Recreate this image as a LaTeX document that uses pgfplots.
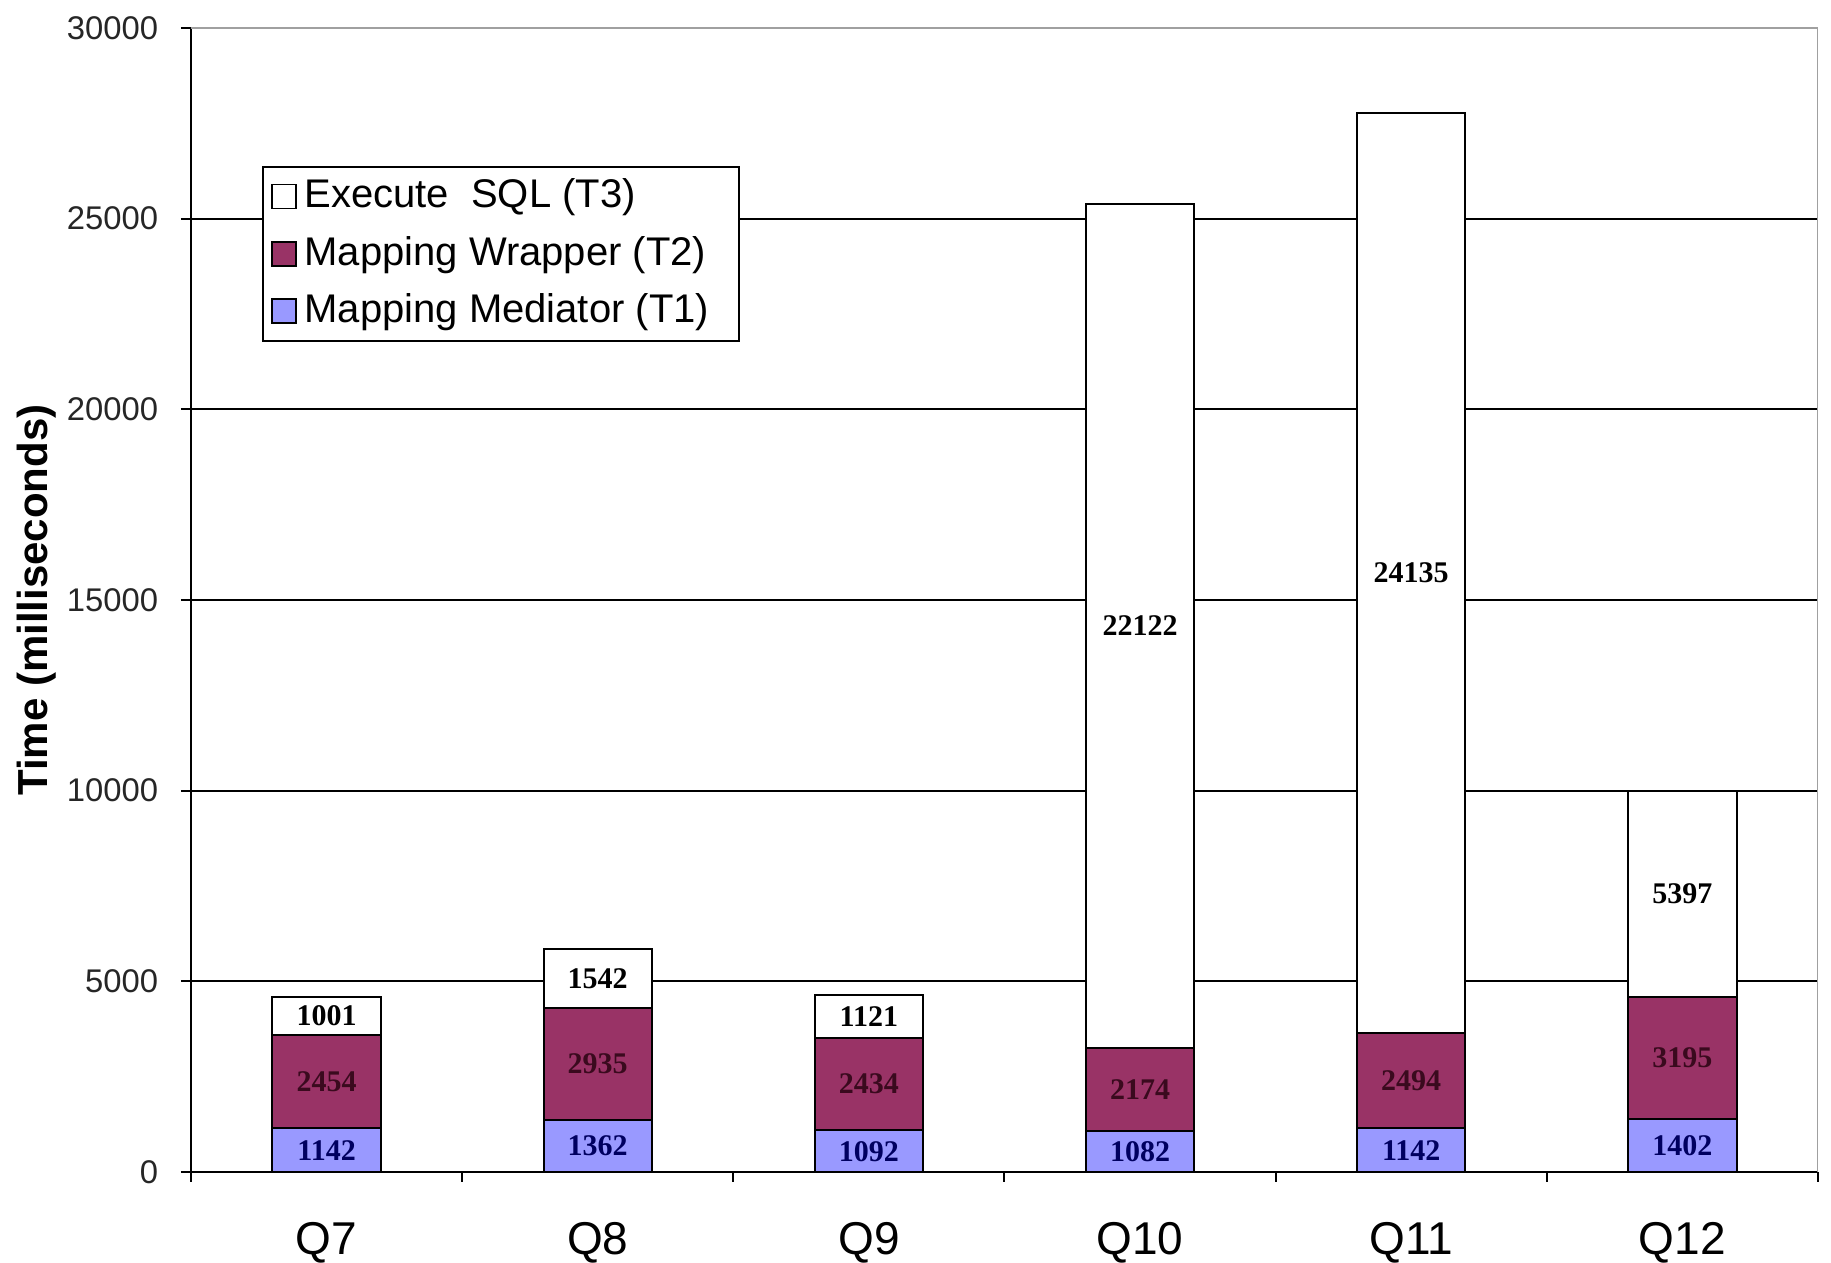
\documentclass[border=0pt]{standalone}
\usepackage{fontspec}
\setmainfont{Liberation Sans}
\newfontfamily\tnr{Liberation Serif}
\usepackage{pgfplots}
\usepackage{pgfplotstable}
\pgfplotsset{compat=1.18}
\definecolor{tone}{HTML}{9999FF}
\definecolor{ttwo}{HTML}{993366}
\definecolor{lblone}{HTML}{000060}
\definecolor{lbltwo}{HTML}{3A0A1E}
\definecolor{framegray}{HTML}{A0A0A0}

\pgfplotstableread{
x t1 t2 t3
0 1142 2454 1001
1 1362 2935 1542
2 1092 2434 1121
3 1082 2174 22122
4 1142 2494 24135
5 1402 3195 5397
}\datatable

\tikzset{
  segnode/.style={anchor=center, inner sep=0pt,
      font=\tnr\bfseries\fontsize{7.5}{8}\selectfont},
}
\pgfplotsset{
  seglabel/.style={
    nodes near coords={\pgfplotspointmeta},
    point meta=explicit symbolic,
    every node near coord/.style={segnode, text=#1},
  },
}

\begin{document}
\begin{tikzpicture}
\useasboundingbox (-47.75pt,-22.75pt) rectangle (410pt,293pt);
\begin{axis}[
  at={(0,0)}, anchor=south west,
  scale only axis, width=406.75pt, height=286pt,
  ybar stacked, bar width=0.4,
  xmin=-0.5, xmax=5.5, ymin=0, ymax=30000,
  xtick={0,...,5}, xticklabels={Q7,Q8,Q9,Q10,Q11,Q12},
  minor xtick={-0.5,0.5,...,5.5},
  ytick={0,5000,...,30000},
  scaled y ticks=false,
  /pgf/number format/1000 sep={},
  /pgf/number format/assume math mode=true,
  ymajorgrids, grid style={black, line width=0.45pt},
  axis x line*=bottom, axis y line*=left,
  axis line style={black, line width=0.5pt, -},
  tick align=outside,
  major tick length=2.5pt, minor tick length=2.5pt,
  major x tick style={draw=none},
  minor x tick style={black, line width=0.5pt},
  major y tick style={black, line width=0.5pt},
  yticklabel style={anchor=east, inner sep=0pt, xshift=-5.5pt, font=\fontsize{8.2}{10}\selectfont, text=black!85},
  xticklabel style={anchor=north, inner sep=0pt, yshift=-10pt, font=\fontsize{11.5}{13}\selectfont},
  every axis y label/.style={at={(axis description cs:-0.095,0.5)}, rotate=90, anchor=center},
  ylabel={\bfseries\fontsize{10.5}{12}\selectfont Time (milliseconds)},
  legend image code/.code={\draw[#1, line width=0.4pt] (0pt,-3pt) rectangle (6pt,3pt);},
  reverse legend,
  legend cell align=left,
  legend style={at={(axis description cs:0.0436,0.8794)}, anchor=north west,
    draw=black, line width=0.5pt, fill=white,
    font=\fontsize{10}{11}\selectfont,
    row sep=1.6pt, inner xsep=2pt, inner ysep=1pt},
]
\addplot[fill=tone, draw=black, line width=0.5pt, seglabel=lblone]
  table[x=x, y=t1, meta=t1] {\datatable};
\addlegendentry{Mapping Mediator (T1)\kern3.4pt}
\addplot[fill=ttwo, draw=black, line width=0.5pt, seglabel=lbltwo]
  table[x=x, y=t2, meta=t2] {\datatable};
\addlegendentry{Mapping Wrapper (T2)\kern3.4pt}
\addplot[fill=white, draw=black, line width=0.5pt, seglabel=black]
  table[x=x, y=t3, meta=t3] {\datatable};
\addlegendentry{Execute\ \ SQL (T3)\kern3.4pt}
\draw[framegray, line width=0.5pt] (rel axis cs:0,1) -- (rel axis cs:1,1) -- (rel axis cs:1,0);
\end{axis}
\end{tikzpicture}
\end{document}
